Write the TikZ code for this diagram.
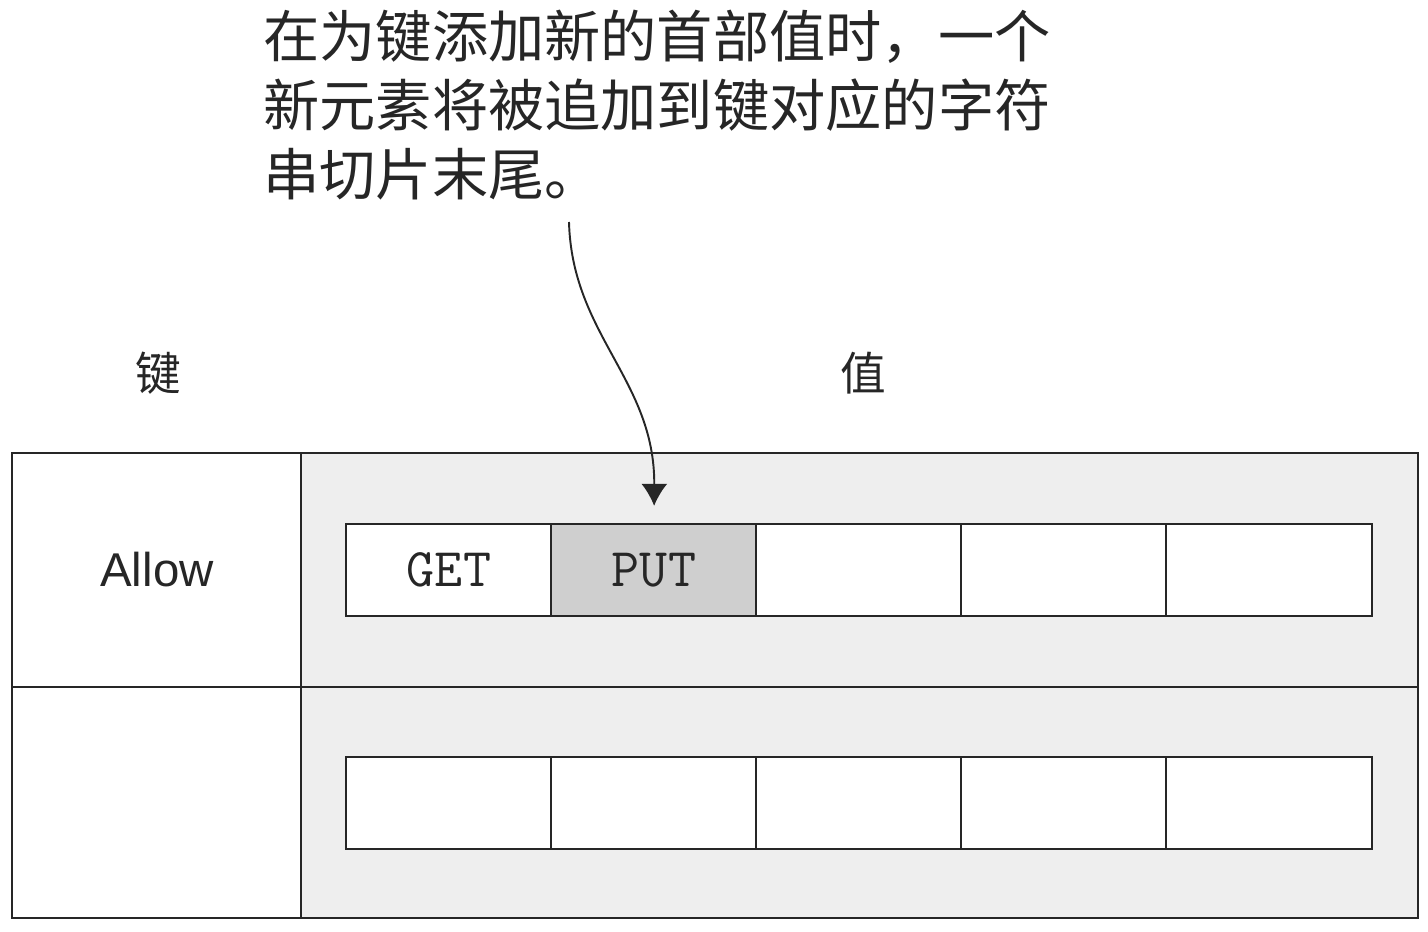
\documentclass[tikz,border=0pt]{standalone}
\usepackage{fontspec}
\setmainfont{Liberation Sans}
\newfontfamily\cjk{Noto Sans CJK SC}
\usetikzlibrary{arrows.meta}
\definecolor{panel}{HTML}{EEEEEE}
\definecolor{putgray}{HTML}{CFCFCF}
\definecolor{ink}{HTML}{262626}

\begin{document}
\begin{tikzpicture}[x=0.02cm,y=-0.02cm,>={Latex[length=0.44cm,width=0.52cm]},
  cell/.style={draw=ink,line width=1.3pt,fill=white,minimum width=4.12cm,minimum height=1.84cm,inner sep=0pt,text=ink,font=\ttfamily\fontsize{31}{31}\selectfont},
  putcell/.style={cell,fill=putgray},
  head/.style={text=ink,font=\cjk\fontsize{26}{26}\selectfont},
  note/.style={text=ink,align=left,inner sep=0pt,font=\cjk\fontsize{32}{39.1}\selectfont}]

\useasboundingbox (0,0) rectangle (1428,932);

% Annotation text
\node[note,anchor=north west] (note) at (263,10) {在为键添加新的首部值时，一个\\新元素将被追加到键对应的字符\\串切片末尾。};

% Column headings
\node[head] (keyhead) at (158,373) {键};
\node[head] (valhead) at (863,373) {值};

% Map table
\fill[panel] (301,453) rectangle (1418,918);
\draw[ink,line width=1.5pt] (12,453) rectangle (1418,918);
\draw[ink,line width=1.5pt] (301,453) -- (301,918);
\draw[ink,line width=1.5pt] (12,687) -- (1418,687);
\node[text=ink,font=\fontsize{27}{27}\selectfont] (allow) at (157,570) {Allow};

% Slices of values
\foreach \i/\t/\s in {0/GET/cell,1/PUT/putcell,2//cell,3//cell,4//cell}
\node[\s] (a\i) at ({449+205*\i},570) {\raisebox{-4pt}{\t}};
\foreach \i in {0,...,4}
\node[cell] (b\i) at ({449+205*\i},803) {};

% Arrow to the new element
\coordinate (tail) at (569,222);
\draw[->,ink,line width=1.1pt,shorten >=0.34cm] (tail) .. controls (572,335) and (655,380) .. (a1.north);

\end{tikzpicture}
\end{document}
